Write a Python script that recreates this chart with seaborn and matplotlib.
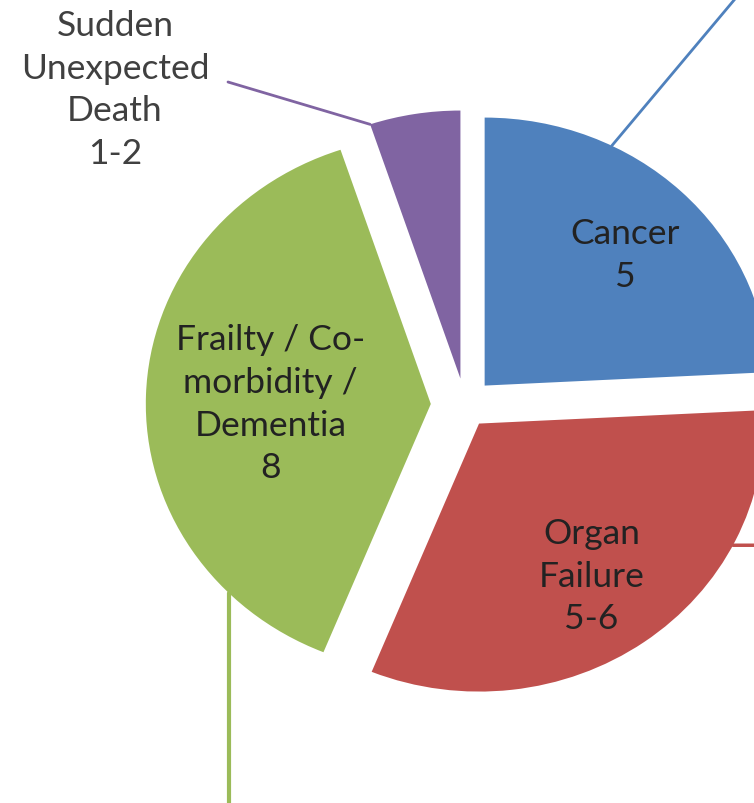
import numpy as np
import matplotlib.pyplot as plt
import seaborn as sns

sns.set_theme(style='white')
plt.rcParams['font.family'] = ['Lato', 'DejaVu Sans']

# slice data (angles -> relative sizes)
categories = ['Cancer', 'Organ\nFailure', 'Frailty / Co-\nmorbidity /\nDementia', 'Sudden\nUnexpected\nDeath']
value_labels = ['5', '5-6', '8', '1-2']
sizes = [5, 6.6, 8, 1.06]
colors = ['#4F81BD', '#C0504D', '#9BBB59', '#8064A2']
explode = [0.1, 0.085, 0.12, 0.1]

W, H = 754, 804
RX, RY = 285, 268   # pixels per pie radius (picture is a bit wider than tall)
cx, cy = 465, 406   # pie centre in pixels


def px(x, y):
    # pixel position -> data coords
    return ((x - cx) / RX, (cy - y) / RY)


def edge(w, ang):
    a = np.deg2rad(ang)
    return (w.center[0] + w.r * np.cos(a), w.center[1] + w.r * np.sin(a))


fig = plt.figure(figsize=(W / 100, H / 100), dpi=100)
ax = fig.add_axes([0, 0, 1, 1])
wedges, _ = ax.pie(sizes, colors=colors, explode=explode, startangle=90,
                   counterclock=False, wedgeprops=dict(linewidth=0))
ax.set_xlim(-cx / RX, (W - cx) / RX)
ax.set_ylim(-(H - cy) / RY, cy / RY)
ax.set_aspect('auto')
ax.axis('off')

# labels inside the three big slices (radius fraction + small pixel nudge)
label_r = [0.69, 0.7, 0.57]
nudge = [(5, 3), (-3, -1), (2, 4)]
for w, cat, val, r, (dx, dy) in zip(wedges[:3], categories[:3], value_labels[:3], label_r, nudge):
    mid = np.deg2rad((w.theta1 + w.theta2) / 2)
    x = w.center[0] + r * np.cos(mid) + dx / RX
    y = w.center[1] + r * np.sin(mid) - dy / RY
    ax.text(x, y, f'{cat}\n{val}', ha='center', va='center', fontsize=25.5,
            color='#222222', linespacing=1.42)

# outside label for the small slice
ax.text(*px(115, 90), f'{categories[3]}\n{value_labels[3]}', ha='center', va='center',
        fontsize=25.5, color='#404040', linespacing=1.42)

line = dict(arrowstyle='-', lw=2, shrinkA=0, shrinkB=0)
ax.annotate('', xy=edge(wedges[3], wedges[3].theta2), xytext=px(228, 83),
            arrowprops=dict(line, color=colors[3]), annotation_clip=False)
ax.annotate('', xy=edge(wedges[0], 63.5), xytext=px(740, -6),
            arrowprops=dict(line, color=colors[0]), annotation_clip=False)
p = edge(wedges[1], -27)
ax.annotate('', xy=p, xytext=(px(800, 0)[0], p[1]),
            arrowprops=dict(line, color=colors[1], lw=2.5), annotation_clip=False)
# green leader runs down and then along the (cropped) bottom edge
ax.annotate('', xy=edge(wedges[2], 225), xytext=px(800, 806),
            arrowprops=dict(line, color=colors[2], lw=3,
                            connectionstyle='angle,angleA=0,angleB=90,rad=0'),
            annotation_clip=False)

fig.savefig('out.png', dpi=100)
